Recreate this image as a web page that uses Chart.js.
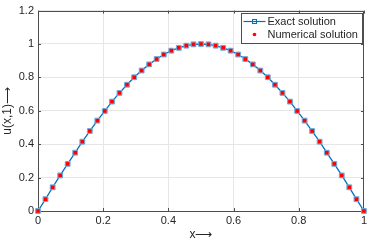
<!DOCTYPE html>
<html>
<head>
<meta charset="utf-8">
<script src="https://cdn.jsdelivr.net/npm/chart.js@4"></script>
<style>
  html, body { margin: 0; padding: 0; background: #fff; }
  #wrap { width: 370px; height: 242px; position: relative; }
</style>
</head>
<body>
<div id="wrap"><canvas id="c" width="370" height="242"></canvas></div>
<script>
// x positions of the grid nodes
const xNodes = [0, 0.023, 0.045, 0.068, 0.091, 0.114, 0.136, 0.159, 0.182, 0.205, 0.227,
  0.25, 0.273, 0.295, 0.318, 0.341, 0.364, 0.386, 0.409, 0.432, 0.455, 0.477, 0.5,
  0.523, 0.545, 0.568, 0.591, 0.614, 0.636, 0.659, 0.682, 0.705, 0.727, 0.75, 0.773,
  0.795, 0.818, 0.841, 0.864, 0.886, 0.909, 0.932, 0.955, 0.977, 1];

const exactU = [0, 0.071, 0.142, 0.213, 0.282, 0.349, 0.415, 0.479, 0.541, 0.599, 0.655,
  0.707, 0.756, 0.801, 0.841, 0.878, 0.910, 0.937, 0.960, 0.977, 0.990, 0.998, 1,
  0.998, 0.990, 0.977, 0.960, 0.937, 0.910, 0.878, 0.841, 0.801, 0.756, 0.707, 0.655,
  0.599, 0.541, 0.479, 0.415, 0.349, 0.282, 0.213, 0.142, 0.071, 0];

const numericalU = [0, 0.071, 0.142, 0.213, 0.282, 0.349, 0.415, 0.479, 0.541, 0.599, 0.655,
  0.707, 0.756, 0.801, 0.841, 0.878, 0.910, 0.937, 0.960, 0.977, 0.990, 0.998, 1,
  0.998, 0.990, 0.977, 0.960, 0.937, 0.910, 0.878, 0.841, 0.801, 0.756, 0.707, 0.655,
  0.599, 0.541, 0.479, 0.415, 0.349, 0.282, 0.213, 0.142, 0.071, 0];

const xTicks = [0, 0.2, 0.4, 0.6, 0.8, 1];
const yTicks = [0, 0.2, 0.4, 0.6, 0.8, 1, 1.2];
const seriesNames = ['Exact solution', 'Numerical solution'];

const blue = '#0072bd';
const red = '#ff0000';
const ink = '#262626';
const fontFamily = "'Liberation Sans', Arial, sans-serif";

const toPts = (ys) => xNodes.map((x, i) => ({ x: x, y: ys[i] }));

// MATLAB-like frame, inner ticks and legend box
const frame = {
  id: 'frame',
  beforeDatasetsDraw(chart) {
    const { ctx, chartArea: a, scales } = chart;
    ctx.save();
    ctx.strokeStyle = '#4d4d4d';
    ctx.lineWidth = 1;
    ctx.strokeRect(Math.round(a.left) + 0.5, Math.round(a.top) + 0.5,
      Math.round(a.right - a.left) - 1, Math.round(a.bottom - a.top));
    ctx.beginPath();
    xTicks.forEach(v => {
      const px = Math.round(scales.x.getPixelForValue(v)) + 0.5;
      ctx.moveTo(px, a.bottom); ctx.lineTo(px, a.bottom - 3);
      ctx.moveTo(px, a.top); ctx.lineTo(px, a.top + 3);
    });
    yTicks.forEach(v => {
      const py = Math.round(scales.y.getPixelForValue(v)) + 0.5;
      ctx.moveTo(a.left, py); ctx.lineTo(a.left + 3, py);
      ctx.moveTo(a.right, py); ctx.lineTo(a.right - 3, py);
    });
    ctx.stroke();
    ctx.restore();
  },
  afterDraw(chart) {
    const { ctx } = chart;
    ctx.save();
    // legend
    const lx = 241.5, ly = 13.5, lw = 121, lh = 30;
    ctx.fillStyle = '#fff';
    ctx.fillRect(lx, ly, lw, lh);
    ctx.strokeStyle = '#4d4d4d';
    ctx.lineWidth = 1;
    ctx.strokeRect(lx, ly, lw, lh);
    ctx.font = '11px ' + fontFamily;
    ctx.textBaseline = 'middle';
    const r1 = ly + 8, r2 = ly + 21;
    ctx.strokeStyle = blue;
    ctx.lineWidth = 1.2;
    ctx.beginPath(); ctx.moveTo(lx + 2, r1); ctx.lineTo(lx + 24, r1); ctx.stroke();
    ctx.lineWidth = 1;
    ctx.strokeRect(lx + 11, r1 - 2, 4, 4);
    ctx.fillStyle = red;
    ctx.beginPath(); ctx.arc(lx + 13, r2, 1.8, 0, Math.PI * 2); ctx.fill();
    ctx.fillStyle = ink;
    ctx.fillText(seriesNames[0], lx + 26, r1);
    ctx.fillText(seriesNames[1], lx + 26, r2);
    ctx.restore();
  }
};

const tickFont = { family: fontFamily, size: 11 };

new Chart(document.getElementById('c'), {
  type: 'scatter',
  data: {
    datasets: [
      {
        label: seriesNames[0],
        data: toPts(exactU),
        showLine: true,
        clip: false,
        borderColor: blue,
        borderWidth: 1.3,
        pointStyle: 'rect',
        pointRadius: 3.4,
        pointBackgroundColor: '#9cc3e6',
        pointBorderColor: '#6aa6da',
        pointBorderWidth: 1,
        order: 2,
      },
      {
        label: seriesNames[1],
        data: toPts(numericalU),
        showLine: false,
        clip: false,
        pointStyle: 'rect',
        pointRadius: 2.6,
        pointBackgroundColor: red,
        pointBorderColor: red,
        pointBorderWidth: 0,
        order: 1,
      },
    ],
  },
  options: {
    responsive: false,
    animation: false,
    layout: { padding: { top: 6, right: 1, left: 0, bottom: 0 } },
    plugins: { legend: { display: false }, tooltip: { enabled: false } },
    scales: {
      x: {
        type: 'linear',
        min: 0, max: 1,
        afterBuildTicks: (s) => { s.ticks = xTicks.map(v => ({ value: v })); },
        grid: { color: '#e6e6e6', drawTicks: false },
        border: { display: false },
        ticks: { color: ink, font: tickFont, padding: 3, maxRotation: 0,
          callback: (v) => String(+v.toFixed(1)) },
        title: { display: true, text: 'x⟶', color: ink, font: { family: fontFamily, size: 12 }, padding: { top: 2, bottom: 0 } },
        afterFit: (s) => { s.height = 31; },
      },
      y: {
        type: 'linear',
        min: 0, max: 1.2,
        afterBuildTicks: (s) => { s.ticks = yTicks.map(v => ({ value: v })); },
        grid: { color: '#e6e6e6', drawTicks: false },
        border: { display: false },
        ticks: { color: ink, font: tickFont, padding: 4,
          callback: (v) => String(+v.toFixed(1)) },
        title: { display: true, text: 'u(x,1)⟶', color: ink, font: { family: fontFamily, size: 12 }, padding: { top: 0, bottom: 0 } },
        afterFit: (s) => { s.width = 38; },
      },
    },
  },
  plugins: [frame],
});
</script>
</body>
</html>
